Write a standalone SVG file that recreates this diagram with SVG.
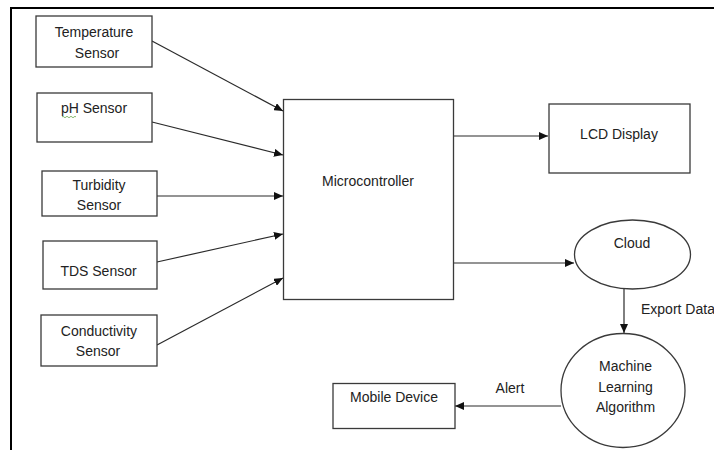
<svg xmlns="http://www.w3.org/2000/svg" width="714" height="450" viewBox="0 0 714 450">
<style>
.box{fill:#fff;stroke:#3a3a3a;stroke-width:1.3}
.t{font-family:"Liberation Sans",Arial,sans-serif;font-size:14px;fill:#222;text-anchor:middle}
.c{stroke:#2a2a2a;stroke-width:1.2;fill:none;marker-end:url(#ah)}
</style>
<defs>
<marker id="ah" markerUnits="userSpaceOnUse" markerWidth="10" markerHeight="8" refX="9" refY="4" orient="auto">
<path d="M0,0 L9,4 L0,8 Z" fill="#111"/>
</marker>
</defs>
<rect width="714" height="450" fill="#fff"/>
<path d="M11,450 V8 H714" fill="none" stroke="#000" stroke-width="2"/>
<g id="connectors">
<line class="c" x1="152" y1="41" x2="283" y2="111"/>
<line class="c" x1="152" y1="122" x2="283" y2="155"/>
<line class="c" x1="157" y1="196" x2="283" y2="196"/>
<line class="c" x1="157" y1="262" x2="283" y2="234"/>
<line class="c" x1="157" y1="345" x2="283" y2="278"/>
<line class="c" x1="454" y1="136" x2="548" y2="136"/>
<line class="c" x1="454" y1="263" x2="574" y2="263"/>
<line class="c" x1="624" y1="289" x2="624" y2="333"/>
<line class="c" x1="561" y1="406" x2="455" y2="406"/>
<text class="t" x="641" y="314" style="text-anchor:start">Export Data</text>
<text class="t" x="510" y="393">Alert</text>
</g>
<g id="temperature">
<rect class="box" x="36" y="16" width="116" height="51"/>
<text class="t" x="94" y="37">Temperature</text>
<text class="t" x="97" y="57.5">Sensor</text>
</g>
<g id="ph">
<rect class="box" x="37" y="93" width="115" height="49"/>
<text class="t" x="94" y="113">pH Sensor</text>
<path d="M62,117 q1,-1.5 2,0 t2,0 t2,0 t2,0 t2,0 t2,0 t2,0" fill="none" stroke="#6aa84f" stroke-width="0.8"/>
</g>
<g id="turbidity">
<rect class="box" x="42" y="171" width="115" height="45"/>
<text class="t" x="99" y="190">Turbidity</text>
<text class="t" x="99" y="209.5">Sensor</text>
</g>
<g id="tds">
<rect class="box" x="43" y="241" width="114" height="48"/>
<text class="t" x="98.5" y="275.5">TDS Sensor</text>
</g>
<g id="conductivity">
<rect class="box" x="41" y="315" width="116" height="51"/>
<text class="t" x="99" y="336">Conductivity</text>
<text class="t" x="98" y="355.5">Sensor</text>
</g>
<g id="microcontroller">
<rect class="box" x="283.5" y="99.5" width="170" height="200"/>
<text class="t" x="368" y="185.5">Microcontroller</text>
</g>
<g id="lcd">
<rect class="box" x="549" y="104" width="141" height="69"/>
<text class="t" x="619" y="139">LCD Display</text>
</g>
<g id="cloud">
<ellipse class="box" cx="632.5" cy="254.5" rx="58" ry="34.5"/>
<text class="t" x="632" y="248">Cloud</text>
</g>
<g id="ml">
<ellipse class="box" cx="623" cy="390.5" rx="62" ry="57"/>
<text class="t" x="625.5" y="370.5">Machine</text>
<text class="t" x="625.5" y="391.5">Learning</text>
<text class="t" x="625.5" y="411.5">Algorithm</text>
</g>
<g id="mobile">
<rect class="box" x="333" y="383.5" width="122" height="45"/>
<text class="t" x="394" y="402">Mobile Device</text>
</g>
</svg>
